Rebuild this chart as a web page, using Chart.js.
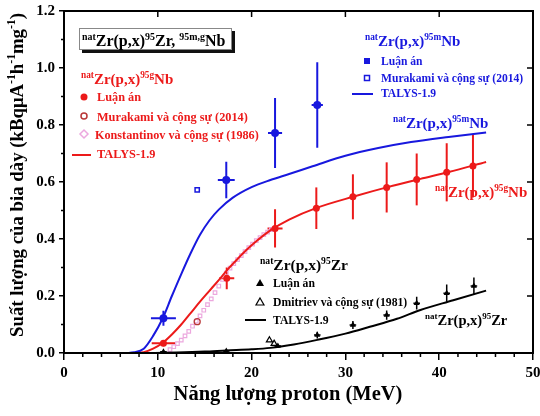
<!DOCTYPE html>
<html><head><meta charset="utf-8">
<script src="https://cdn.jsdelivr.net/npm/chart.js@4.4.1/dist/chart.umd.min.js"></script>
<style>html,body{margin:0;padding:0;background:#fff;}#wrap{width:540px;height:416px;}canvas{display:block;}</style>
</head><body>
<div id="wrap"><canvas id="c" width="540" height="416"></canvas></div>
<script>
// ---------- tick labels ----------
const xTicks = [0, 10, 20, 30, 40, 50];
const yTicks = [0, 0.2, 0.4, 0.6, 0.8, 1.0, 1.2];

// ---------- natZr(p,x)95mNb ----------
const nbM_x    = [10.6, 17.3, 22.5, 27.0];
const nbM_y    = [0.122, 0.607, 0.772, 0.870];
const nbM_xerr = [1.33, 0.9, 0.75, 0.6];
const nbM_yerr = [0.026, 0.064, 0.123, 0.15];
const nbMMura_x = [14.2];
const nbMMura_y = [0.572];
const nbMTalys_x = [1.4, 6, 7.5, 8.5, 9.5, 10.5, 11.5, 12.5, 13.5, 14.5, 15.5, 16.5, 18, 20, 22, 24, 26.5, 30, 33.5, 37, 41, 45];
const nbMTalys_y = [0, 0, 0.003, 0.015, 0.06, 0.12, 0.2, 0.277, 0.35, 0.415, 0.465, 0.503, 0.545, 0.582, 0.607, 0.628, 0.655, 0.692, 0.719, 0.74, 0.758, 0.774];

// ---------- natZr(p,x)95gNb ----------
const nbG_x    = [10.6, 17.35, 22.5, 26.9, 30.8, 34.4, 37.6, 40.8, 43.6];
const nbG_y    = [0.034, 0.262, 0.437, 0.508, 0.548, 0.581, 0.609, 0.634, 0.656];
const nbG_xerr = [1.25, 0.8, 0.8, 0, 0, 0, 0, 0, 0];
const nbG_yerr = [0.01, 0.038, 0.067, 0.073, 0.079, 0.088, 0.091, 0.102, 0.11];
const nbGMura_x = [14.2];
const nbGMura_y = [0.11];
const nbGKons_x = [11.3, 11.7, 12.1, 12.5, 12.9, 13.3, 13.7, 14.1, 14.5, 14.9, 15.3, 15.7, 16.1, 16.5, 16.9, 17.3, 17.7, 18.1, 18.5, 18.9, 19.3, 19.7, 20.1, 20.5, 20.9, 21.3, 21.7, 22.1];
const nbGKons_y = [0.012, 0.022, 0.033, 0.045, 0.06, 0.076, 0.094, 0.112, 0.13, 0.15, 0.17, 0.19, 0.212, 0.235, 0.258, 0.28, 0.298, 0.314, 0.328, 0.342, 0.356, 0.37, 0.382, 0.394, 0.405, 0.415, 0.424, 0.433];
const nbGTalys_x = [1.4, 7, 8.5, 9.5, 10.5, 11.5, 12.5, 13.5, 14.5, 15.5, 16.5, 17.5, 18.5, 19.5, 20.5, 22, 24, 27, 31, 34.5, 38, 41, 45];
const nbGTalys_y = [0, 0, 0.003, 0.015, 0.035, 0.065, 0.1, 0.14, 0.18, 0.218, 0.256, 0.295, 0.33, 0.363, 0.392, 0.43, 0.468, 0.51, 0.55, 0.582, 0.611, 0.635, 0.67];

// ---------- natZr(p,x)95Zr ----------
const zr_x    = [10.6, 17.3, 22.8, 27.0, 30.8, 34.4, 37.6, 40.8, 43.7];
const zr_y    = [0.004, 0.007, 0.025, 0.063, 0.098, 0.133, 0.175, 0.21, 0.235];
const zr_yerr = [0.004, 0.004, 0.005, 0.012, 0.014, 0.016, 0.022, 0.03, 0.03];
const zrDmit_x = [21.9, 22.4];
const zrDmit_y = [0.045, 0.033];
const zrTalys_x = [1.4, 8, 12, 15, 17.3, 20, 22, 24.5, 27, 30, 32.6, 35.5, 38, 41.5, 45];
const zrTalys_y = [0, 0, 0.002, 0.005, 0.009, 0.013, 0.018, 0.03, 0.046, 0.068, 0.092, 0.12, 0.151, 0.185, 0.219];

// ---------- styles ----------
const BLUE = 'rgb(24,24,222)', RED = 'rgb(236,26,26)', BLACK = '#000',
      PINK = 'rgb(236,168,222)', DRED = 'rgb(185,55,55)';
const FONT = '"Liberation Serif","Times New Roman",serif';

const pts = (xs, ys) => xs.map((v, i) => ({x: v, y: ys[i]}));

function parseRich(str) {
  const segs = []; const re = /\^\{([^}]*)\}|([^\^]+)/g; let m;
  while ((m = re.exec(str))) {
    if (m[1] !== undefined) segs.push({t: m[1], sup: true}); else segs.push({t: m[2], sup: false});
  }
  return segs;
}
function richWidth(ctx, segs, size) {
  let w = 0;
  for (const s of segs) { ctx.font = `bold ${s.sup ? size * 0.62 : size}px ${FONT}`; w += ctx.measureText(s.t).width; }
  return w;
}
function drawRich(ctx, str, x, y, size, color) {
  const segs = parseRich(str);
  let cx = x;
  ctx.fillStyle = color; ctx.textBaseline = 'alphabetic'; ctx.textAlign = 'left';
  for (const s of segs) {
    const fs = s.sup ? size * 0.62 : size;
    ctx.font = `bold ${fs}px ${FONT}`;
    ctx.fillText(s.t, cx, s.sup ? y - size * 0.4 : y);
    cx += ctx.measureText(s.t).width;
  }
  return cx;
}

const errGroups = [
  {xs: nbM_x, ys: nbM_y, xe: nbM_xerr, ye: nbM_yerr, color: BLUE, w: 2},
  {xs: nbG_x, ys: nbG_y, xe: nbG_xerr, ye: nbG_yerr, color: RED, w: 2},
  {xs: zr_x, ys: zr_y, xe: zr_x.map(() => 0.35), ye: zr_yerr, color: BLACK, w: 1.5}
];

const errorBars = {
  id: 'errorBars',
  beforeDatasetsDraw(chart) {
    const {ctx, scales: {x, y}} = chart;
    ctx.save();
    for (const g of errGroups) {
      ctx.strokeStyle = g.color; ctx.lineWidth = g.w;
      g.xs.forEach((xv, i) => {
        const px = x.getPixelForValue(xv), py = y.getPixelForValue(g.ys[i]);
        ctx.beginPath();
        if (g.ye[i] > 0) {
          ctx.moveTo(px, y.getPixelForValue(g.ys[i] - g.ye[i]));
          ctx.lineTo(px, y.getPixelForValue(g.ys[i] + g.ye[i]));
        }
        if (g.xe[i] > 0) {
          ctx.moveTo(x.getPixelForValue(xv - g.xe[i]), py);
          ctx.lineTo(x.getPixelForValue(xv + g.xe[i]), py);
        }
        ctx.stroke();
      });
    }
    ctx.restore();
  }
};

const frameAndText = {
  id: 'frameAndText',
  afterDraw(chart) {
    const {ctx, chartArea: a, scales: {x, y}} = chart;
    ctx.save();
    // frame
    ctx.strokeStyle = '#000'; ctx.lineWidth = 2;
    ctx.strokeRect(a.left, a.top, a.right - a.left, a.bottom - a.top);
    ctx.lineWidth = 1.5;
    ctx.beginPath();
    for (let v = 2; v < 50; v += 2) {
      if (v % 10 === 0) continue;
      const px = x.getPixelForValue(v);
      ctx.moveTo(px, a.bottom); ctx.lineTo(px, a.bottom + 4);
    }
    for (let v = 0.1; v < 1.2; v += 0.2) {
      const py = y.getPixelForValue(v);
      ctx.moveTo(a.left, py); ctx.lineTo(a.left - 3, py);
    }
    for (const v of xTicks) {
      const px = x.getPixelForValue(v);
      ctx.moveTo(px, a.top); ctx.lineTo(px, a.top + 6);
    }
    for (const v of yTicks) {
      const py = y.getPixelForValue(v);
      ctx.moveTo(a.right, py); ctx.lineTo(a.right - 6, py);
    }
    ctx.stroke();

    // title box with shadow
    ctx.fillStyle = '#111';
    ctx.fillRect(82, 31, 153, 22);
    ctx.fillStyle = '#fff';
    ctx.fillRect(79, 28, 153, 22);
    ctx.strokeStyle = '#888'; ctx.lineWidth = 1;
    ctx.strokeRect(79.5, 28.5, 152, 21);
    drawRich(ctx, '^{nat}Zr(p,x)^{95}Zr, ^{95m,g}Nb', 82, 46, 16, BLACK);

    // red legend (95gNb)
    drawRich(ctx, '^{nat}Zr(p,x)^{95g}Nb', 81, 84, 15, RED);
    ctx.fillStyle = RED;
    ctx.beginPath(); ctx.arc(84, 97, 3.5, 0, Math.PI * 2); ctx.fill();
    ctx.strokeStyle = DRED; ctx.lineWidth = 1.5;
    ctx.beginPath(); ctx.arc(84, 116, 3, 0, Math.PI * 2); ctx.stroke();
    ctx.strokeStyle = PINK; ctx.lineWidth = 1.5;
    ctx.beginPath(); ctx.moveTo(84, 130); ctx.lineTo(88, 134); ctx.lineTo(84, 138); ctx.lineTo(80, 134); ctx.closePath(); ctx.stroke();
    ctx.strokeStyle = RED; ctx.lineWidth = 2;
    ctx.beginPath(); ctx.moveTo(72, 155); ctx.lineTo(91, 155); ctx.stroke();
    drawRich(ctx, 'Luận án', 97, 101, 12.3, RED);
    drawRich(ctx, 'Murakami và cộng sự (2014)', 97, 121, 12.3, RED);
    drawRich(ctx, 'Konstantinov và cộng sự (1986)', 95, 139, 12.2, RED);
    drawRich(ctx, 'TALYS-1.9', 97, 158, 12.3, RED);

    // blue legend (95mNb)
    drawRich(ctx, '^{nat}Zr(p,x)^{95m}Nb', 365, 46, 15, BLUE);
    ctx.fillStyle = BLUE;
    ctx.fillRect(364, 58, 6, 6);
    ctx.strokeStyle = BLUE; ctx.lineWidth = 1.5;
    ctx.strokeRect(364.5, 75.5, 5, 5);
    ctx.lineWidth = 2;
    ctx.beginPath(); ctx.moveTo(352, 94); ctx.lineTo(373, 94); ctx.stroke();
    drawRich(ctx, 'Luận án', 381, 65, 11.6, BLUE);
    drawRich(ctx, 'Murakami và cộng sự (2014)', 381, 82, 11.6, BLUE);
    drawRich(ctx, 'TALYS-1.9', 381, 97, 11.6, BLUE);

    // black legend (95Zr)
    drawRich(ctx, '^{nat}Zr(p,x)^{95}Zr', 260, 270, 15.5, BLACK);
    ctx.fillStyle = BLACK;
    ctx.beginPath(); ctx.moveTo(260, 279); ctx.lineTo(264, 286); ctx.lineTo(256, 286); ctx.closePath(); ctx.fill();
    ctx.strokeStyle = BLACK; ctx.lineWidth = 1.2;
    ctx.beginPath(); ctx.moveTo(260, 298); ctx.lineTo(264, 305); ctx.lineTo(256, 305); ctx.closePath(); ctx.stroke();
    ctx.lineWidth = 2;
    ctx.beginPath(); ctx.moveTo(245, 320); ctx.lineTo(266, 320); ctx.stroke();
    drawRich(ctx, 'Luận án', 273, 287, 11.7, BLACK);
    drawRich(ctx, 'Dmitriev và cộng sự (1981)', 273, 306, 11.7, BLACK);
    drawRich(ctx, 'TALYS-1.9', 273, 324, 11.7, BLACK);

    // curve labels
    drawRich(ctx, '^{nat}Zr(p,x)^{95m}Nb', 393, 128, 15, BLUE);
    drawRich(ctx, '^{nat}Zr(p,x)^{95g}Nb', 435, 197, 15, RED);
    drawRich(ctx, '^{nat}Zr(p,x)^{95}Zr', 425, 325, 14.5, BLACK);

    // axis titles
    const xt = 'Năng lượng proton (MeV)';
    const xs = 20.5;
    const xw = richWidth(ctx, parseRich(xt), xs);
    drawRich(ctx, xt, 288 - xw / 2, 400, xs, BLACK);

    const yt = 'Suất lượng của bia dày (kBqμA^{-1}h^{-1}mg^{-1})';
    const ys = 18.8;
    const yw = richWidth(ctx, parseRich(yt), ys);
    ctx.translate(23, 175);
    ctx.rotate(-Math.PI / 2);
    drawRich(ctx, yt, -yw / 2, 0, ys, BLACK);
    ctx.restore();
  }
};

const tickFont = {family: FONT, size: 15, weight: 'bold'};

new Chart(document.getElementById('c'), {
  type: 'scatter',
  data: {
    datasets: [
      {data: pts(nbM_x, nbM_y), pointStyle: 'circle', pointRadius: 4, backgroundColor: BLUE, borderColor: BLUE, borderWidth: 0, order: 1},
      {data: pts(nbG_x, nbG_y), pointStyle: 'circle', pointRadius: 3.5, backgroundColor: RED, borderColor: RED, borderWidth: 0, order: 1},
      {data: pts(zr_x, zr_y), pointStyle: 'triangle', pointRadius: 3.5, backgroundColor: BLACK, borderColor: BLACK, borderWidth: 0, order: 1},
      {data: pts(nbMMura_x, nbMMura_y), pointStyle: 'rect', pointRadius: 3, backgroundColor: 'rgba(0,0,0,0)', borderColor: BLUE, borderWidth: 1.5, order: 2},
      {data: pts(nbGMura_x, nbGMura_y), pointStyle: 'circle', pointRadius: 3, backgroundColor: 'rgba(0,0,0,0)', borderColor: DRED, borderWidth: 1.3, order: 2},
      {data: pts(zrDmit_x, zrDmit_y), pointStyle: 'triangle', pointRadius: 3.5, backgroundColor: 'rgba(0,0,0,0)', borderColor: BLACK, borderWidth: 1.2, order: 2},
      {data: pts(nbGKons_x, nbGKons_y), pointStyle: 'rect', pointRadius: 2.5, backgroundColor: 'rgba(0,0,0,0)', borderColor: PINK, borderWidth: 1.2, order: 4},
      {data: pts(nbMTalys_x, nbMTalys_y), showLine: true, pointRadius: 0, borderColor: BLUE, borderWidth: 2, cubicInterpolationMode: 'monotone', order: 3},
      {data: pts(nbGTalys_x, nbGTalys_y), showLine: true, pointRadius: 0, borderColor: RED, borderWidth: 2, cubicInterpolationMode: 'monotone', order: 3},
      {data: pts(zrTalys_x, zrTalys_y), showLine: true, pointRadius: 0, borderColor: BLACK, borderWidth: 2, cubicInterpolationMode: 'monotone', order: 3}
    ]
  },
  options: {
    responsive: false,
    animation: false,
    devicePixelRatio: 1,
    layout: {padding: {left: 0, right: 7, top: 11, bottom: 0}},
    plugins: {legend: {display: false}, tooltip: {enabled: false}, title: {display: false}},
    elements: {point: {hoverRadius: 0}},
    scales: {
      x: {
        type: 'linear', min: 0, max: 50,
        afterBuildTicks: s => { s.ticks = xTicks.map(v => ({value: v})); },
        afterFit: s => { s.height = 63; s.paddingLeft = 0; s.paddingRight = 0; },
        ticks: {font: tickFont, color: '#000', padding: 4, maxRotation: 0, autoSkip: false, callback: v => String(v)},
        grid: {drawOnChartArea: false, drawTicks: true, tickLength: 7, color: '#000', lineWidth: 1.5},
        border: {display: true, color: '#000', width: 2}
      },
      y: {
        type: 'linear', min: 0, max: 1.2,
        afterBuildTicks: s => { s.ticks = yTicks.map(v => ({value: v})); },
        afterFit: s => { s.width = 64; s.paddingTop = 0; s.paddingBottom = 0; },
        ticks: {font: tickFont, color: '#000', padding: 4, autoSkip: false, callback: v => Number(v).toFixed(1)},
        grid: {drawOnChartArea: false, drawTicks: true, tickLength: 5, color: '#000', lineWidth: 1.5},
        border: {display: true, color: '#000', width: 2}
      }
    }
  },
  plugins: [errorBars, frameAndText]
});
</script>
</body></html>
